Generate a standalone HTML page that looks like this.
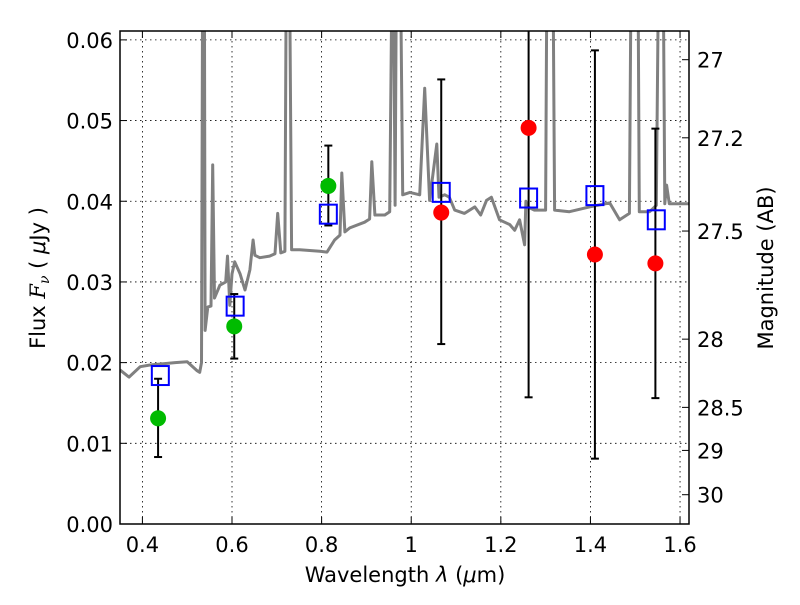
<!DOCTYPE html>
<html><head><meta charset="utf-8"><style>
body{margin:0;background:#fff}
svg text{font-family:"DejaVu Sans","Liberation Sans",sans-serif;fill:#000}
</style></head><body>
<svg id="chart" width="800" height="600" xmlns="http://www.w3.org/2000/svg">
<defs><clipPath id="clip"><rect x="120" y="31" width="569" height="493"/></clipPath></defs>
<rect x="0" y="0" width="800" height="600" fill="#fff"/>
<g id="grid"></g>
<g id="spec" clip-path="url(#clip)"></g>
<g id="marks" clip-path="url(#clip)"></g>
<rect x="120" y="31" width="569" height="493" fill="none" stroke="#000" stroke-width="1.5"/>
<g id="axes"></g>
<text x="405" y="582" font-size="21" text-anchor="middle">Wavelength  <tspan font-style="italic">λ</tspan> (<tspan font-style="italic">μ</tspan>m)</text>
<text transform="translate(45,278) rotate(-90)" font-size="21" text-anchor="middle">Flux  <tspan font-style="italic" font-family="DejaVu Serif,serif">F</tspan><tspan font-style="italic" font-size="14" dy="4" font-family="DejaVu Serif,serif">ν</tspan><tspan dy="-4">  (  </tspan><tspan font-style="italic">μ</tspan>Jy )</text>
<text transform="translate(773,268) rotate(-90)" font-size="21" text-anchor="middle">Magnitude (AB)</text>
</svg>
<script>
const xTicks=[0.4,0.6,0.8,1.0,1.2,1.4,1.6];
const xTickLabels=["0.4","0.6","0.8","1","1.2","1.4","1.6"];
const yTicks=[0,0.01,0.02,0.03,0.04,0.05,0.06];
const yTickLabels=["0.00","0.01","0.02","0.03","0.04","0.05","0.06"];
const magTicks=[27,27.2,27.5,28,28.5,29,30];
const magTickLabels=["27","27.2","27.5","28","28.5","29","30"];
const modelX=[0.44,0.607,0.815,1.067,1.262,1.41,1.547];
const modelY=[0.0184,0.0270,0.0384,0.0411,0.0404,0.0407,0.0377];
const greenX=[0.435,0.605,0.815];
const greenY=[0.0131,0.0245,0.0419];
const redX=[1.067,1.262,1.41,1.545];
const redY=[0.0386,0.0491,0.0334,0.0323];
const errX=[0.435,0.605,0.815,1.067,1.262,1.41,1.545];
const errLo=[0.0083,0.0205,0.0370,0.0223,0.0157,0.0081,0.0156];
const errHi=[0.0180,0.0285,0.0469,0.0551,0.0700,0.0587,0.0490];
const specX=[0.350,0.370,0.395,0.417,0.473,0.500,0.522,0.528,0.532,0.535,0.538,0.540,0.546,0.553,0.557,0.561,0.573,0.586,0.590,0.595,0.600,0.606,0.618,0.629,0.640,0.647,0.651,0.662,0.684,0.696,0.702,0.709,0.718,0.722,0.727,0.733,0.751,0.796,0.812,0.829,0.841,0.845,0.852,0.863,0.896,0.907,0.912,0.919,0.941,0.952,0.959,0.964,0.968,0.974,0.981,0.997,1.019,1.030,1.041,1.057,1.062,1.075,1.085,1.097,1.119,1.142,1.155,1.168,1.179,1.197,1.220,1.231,1.242,1.253,1.256,1.260,1.275,1.300,1.304,1.315,1.320,1.353,1.398,1.443,1.465,1.487,1.492,1.505,1.509,1.532,1.547,1.554,1.561,1.566,1.570,1.576,1.587,1.620];
const specY=[0.0191,0.0182,0.0195,0.0197,0.0200,0.0201,0.0190,0.0188,0.0200,0.08,0.08,0.0240,0.0269,0.027,0.0445,0.028,0.0296,0.030,0.0332,0.0271,0.0310,0.0325,0.031,0.0290,0.0315,0.0352,0.0333,0.0330,0.0332,0.0335,0.0385,0.0336,0.0338,0.08,0.08,0.0340,0.0340,0.0338,0.0337,0.0352,0.0358,0.0435,0.0362,0.0367,0.0374,0.0378,0.0449,0.0383,0.0383,0.0387,0.08,0.0395,0.08,0.08,0.0408,0.0411,0.0408,0.054,0.0401,0.0471,0.0405,0.0408,0.0405,0.0389,0.0385,0.0393,0.0383,0.0401,0.0405,0.0377,0.0371,0.0364,0.0377,0.0346,0.0400,0.0393,0.0389,0.0389,0.08,0.08,0.0389,0.0387,0.0393,0.0398,0.0377,0.0385,0.08,0.08,0.0387,0.0387,0.0395,0.08,0.08,0.0397,0.0420,0.0397,0.0397,0.0397];

const NS="http://www.w3.org/2000/svg";
const X0=120,X1=689,Y0=524,Y1=31,xmin=0.35,xmax=1.62,ymin=0,ymax=0.0611;
function sx(v){return X0+(v-xmin)/(xmax-xmin)*(X1-X0);}
function sy(v){return Y0-(v-ymin)/(ymax-ymin)*(Y0-Y1);}
function magY(m){return sy(Math.pow(10,(23.9-m)/2.5));}
function mk(tag,attrs,parent){const e=document.createElementNS(NS,tag);for(const k in attrs)e.setAttribute(k,attrs[k]);parent.appendChild(e);return e;}
const grid=document.getElementById('grid'),axes=document.getElementById('axes');
const spec=document.getElementById('spec'),marks=document.getElementById('marks');

xTicks.forEach((t,i)=>{const x=sx(t);
 const g=mk('line',{x1:x,x2:x,y1:Y1,y2:Y0,stroke:'#000','stroke-width':0.8,'stroke-dasharray':'1.5,3.5'},grid);
 
 
 mk('line',{x1:x,x2:x,y1:Y0,y2:Y0-7,stroke:'#000','stroke-width':1},axes);
 mk('line',{x1:x,x2:x,y1:Y1,y2:Y1+7,stroke:'#000','stroke-width':1},axes);
 const l=mk('text',{x:x,y:Y0+28,'font-size':21,'text-anchor':'middle'},axes);l.textContent=xTickLabels[i];
 
 
});
yTicks.forEach((t,i)=>{const y=sy(t);
 const g=mk('line',{x1:X0,x2:X1,y1:y,y2:y,stroke:'#000','stroke-width':0.8,'stroke-dasharray':'1.5,3.5'},grid);
 
 
 mk('line',{x1:X0,x2:X0+7,y1:y,y2:y,stroke:'#000','stroke-width':1},axes);
 const l=mk('text',{x:X0-7,y:y+8,'font-size':21,'text-anchor':'end'},axes);l.textContent=yTickLabels[i];
 
 
});
magTicks.forEach((m,i)=>{const y=magY(m);
 mk('line',{x1:X1,x2:X1-7,y1:y,y2:y,stroke:'#000','stroke-width':1},axes);
 const l=mk('text',{x:X1+8,y:y+8,'font-size':21,'text-anchor':'start'},axes);l.textContent=magTickLabels[i];
 
 
});
let d='';specX.forEach((v,i)=>{d+=(i?'L':'M')+sx(v).toFixed(1)+','+sy(specY[i]).toFixed(1);});
const p=mk('path',{d:d,fill:'none',stroke:'#808080','stroke-width':3,'stroke-linejoin':'round'},spec);



errX.forEach((v,i)=>{const x=sx(v),a=sy(errLo[i]),b=sy(errHi[i]);
 const e=mk('g',{},marks);
 
 
 mk('line',{x1:x,x2:x,y1:a,y2:b,stroke:'#000','stroke-width':2},e);
 mk('line',{x1:x-4,x2:x+4,y1:a,y2:a,stroke:'#000','stroke-width':2},e);
 mk('line',{x1:x-4,x2:x+4,y1:b,y2:b,stroke:'#000','stroke-width':2},e);
});
modelX.forEach((v,i)=>{const r=mk('rect',{x:sx(v)-8.5,y:sy(modelY[i])-9.5,width:17,height:19,fill:'none',stroke:'#0000ff','stroke-width':2},marks);
 
 
});
greenX.forEach((v,i)=>{const c=mk('circle',{cx:sx(v),cy:sy(greenY[i]),r:8,fill:'#00bb00'},marks);
 
 
});
redX.forEach((v,i)=>{const c=mk('circle',{cx:sx(v),cy:sy(redY[i]),r:8,fill:'#ff0000'},marks);
 
 
});
</script>
</body></html>
